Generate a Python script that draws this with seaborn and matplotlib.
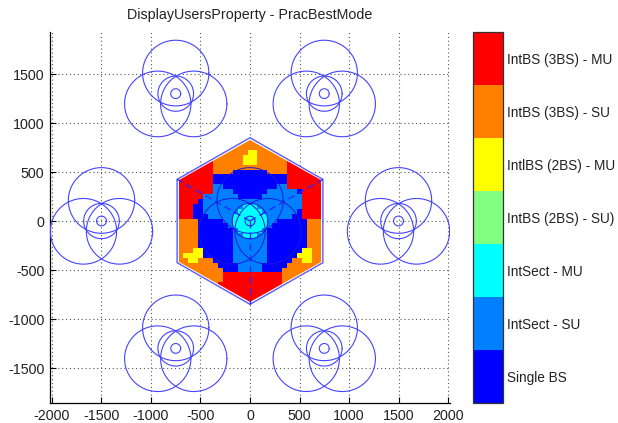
import numpy as np
import matplotlib
matplotlib.use("Agg")
import matplotlib.pyplot as plt
import seaborn as sns
from matplotlib.colors import ListedColormap, BoundaryNorm
from matplotlib.patches import Polygon
from matplotlib.cm import ScalarMappable

sns.set_theme(style="white")
plt.rcParams["font.family"] = ["Liberation Sans", "DejaVu Sans"]
plt.rcParams["axes.unicode_minus"] = False

# ---------------- data ----------------
title = "DisplayUsersProperty - PracBestMode"
mode_labels = ["Single BS", "IntSect - SU", "IntSect - MU", "IntBS (2BS) - SU)",
               "IntlBS (2BS) - MU", "IntBS (3BS) - SU", "IntBS (3BS) - MU"]
mode_codes = ["B", "L", "C", "G", "Y", "O", "R"]
mode_colors = ["#0000ff", "#0080ff", "#00ffff", "#80ff80", "#ffff00", "#ff8000", "#ff0000"]

# base-station (cell) centres
cell_x = [0, -750, 750, -1500, 1500, -750, 750]
cell_y = [0, 1300, 1300, 0, 0, -1300, -1300]

x_ticks = [-2000, -1500, -1000, -500, 0, 500, 1000, 1500, 2000]
y_ticks = [-1500, -1000, -500, 0, 500, 1000, 1500]

# best-mode map of the central cell, 50 m cells
# rows: y = 800 ... -800 ; columns: x = -700 ... 700
map_rows = [
    "RRRRRRR OOOOO OOOOO OOOOO RRRRRRR",
    "RRRRRRR OOOOO OOOOO OOOOO RRRRRRR",
    "RRRRRRR OOOOOOO YY OOOOOO RRRRRRR",
    "RRRRRRR OOOOOO YYY OOOOOO RRRRRRR",
    "RRRRRRR OOOOOO YYY OOOOOO RRRRRRR",
    "RRRRRRR OOOOO OOOOO OOOOO RRRRRRR",
    "RRRRRRR OOOO BBBBBBB OOOO RRRRRRR",
    "RRRRRRR BBBBB BBBBB BBBBB RRRRRRR",
    "RRRRRRR BBBBB BBBBB BBBBB RRRRRRR",
    "RRRRRRR LL BBBBB BBBBB B LL RRRRRRR",
    "RRRRRRR LLLL BBBBBBB LLLLLL B RRRR",
    "RRRRR LLLLLLL BBBBB LLLLLLLL RRRR",
    "RRRR B LLLLLLLLLL LLLLLLLLLL RRRR",
    "RRR BB LLLLLLLL CCC LLLLLLLLL RRRR",
    "RRR BB LLLLLLL CCCCC LLLLLLL B RRRR",
    "RRR BBB LLLLL CCCCCCC LLLLL BB RRRR",
    "OOOO BBBBB LL CCCCCCC LL BBBBBB OOO",
    "OOOO BBBBBB L CCCCCCC L BBBBBBB OOO",
    "OOOO BBBBBBB L CCCCC L BBBBBBBB OOO",
    "OOOO BBBBBBB LL CCC LL BBBBBBBB OOO",
    "OOOO BBBBBBB LLLLLLL BBBBBBBB OOO",
    "OOOO BBBBBBB LLLLLLL BBBBBBBB OOO",
    "OOO YY BBBBBB LLLLLLL BBBBBBB YY OO",
    "O YYYY BBBBBB LLLLLLL BBBBBB YYY OO",
    "OO YY OOO BBBB LLLLLLL BBBBB OO YY OO",
    "OOOOOOOO BBBB LLLLL BBBBB OOOOOOO",
    "OOOOOOOOO BBB LLLLL BBBB OOOOOOOO",
    "OOOOOOOOO RRRRRRRRRRRR OOOOOOOO",
    "OOOOOOOOO RRRRRRRRRRRR OOOOOOOO",
    "OOOOOOOO RRRRRRRRRRRRR OOOOOOOO",
    "OOOOOOOO RRRRRRRRRRRRR OOOOOOOO",
    "OOOOOOOO RRRRRRRRRRRRR OOOOOOOO",
    "OOOOOOOO RRRRRRRRRRRRR OOOOOOOO",
]

# ---------------- figure ----------------
fig = plt.figure(figsize=(6.18, 4.23), dpi=100)
ax = fig.add_axes([50 / 618, 1 - 403.3 / 423, 400 / 618, 371.6 / 423])
ax.set_xlim(-2020, 2020)
ax.set_ylim(-1860, 1932)

codes = np.array([[mode_codes.index(ch) for ch in r.replace(" ", "")] for r in map_rows])
nrow, ncol = codes.shape
xe = np.linspace(-725, 725, ncol + 1)
ye = np.linspace(825, -825, nrow + 1)

cmap = ListedColormap(mode_colors)
norm = BoundaryNorm(np.arange(-0.5, 7.5, 1), cmap.N)


def hexagon(r):
    a = np.deg2rad(90 + 60 * np.arange(6))
    return np.column_stack([r * np.cos(a), r * np.sin(a)])


line_col = "#4444ff"
outer = Polygon(hexagon(850), closed=True, facecolor="white", edgecolor="#5a5aff",
                lw=1.0, zorder=0.9)
ax.add_patch(outer)

mesh = ax.pcolormesh(xe, ye, codes, cmap=cmap, norm=norm, shading="flat", zorder=1,
                     antialiased=False)
clip = Polygon(hexagon(828), closed=True, transform=ax.transData)
mesh.set_clip_path(clip)

# sector boundaries of central cell
for ang in (30, 150, 270):
    a = np.deg2rad(ang)
    ax.plot([0, 850 * np.cos(a)], [0, 850 * np.sin(a)], color="#2a2aff", lw=1.0,
            dashes=(5, 3), zorder=3)

# antenna / coverage circles of every cell
t = np.linspace(0, 2 * np.pi, 361)
for k, (cx, cy) in enumerate(zip(cell_x, cell_y)):
    col = "#1a1ad8" if k == 0 else line_col
    lw = 0.7 if k == 0 else 0.8
    for r in (50, 180):
        ax.plot(cx + r * np.cos(t), cy + r * np.sin(t), color=col, lw=lw, zorder=3)
    for ang in (90, 210, 330):
        a = np.deg2rad(ang)
        ox, oy = cx + 210 * np.cos(a), cy + 210 * np.sin(a)
        ax.plot(ox + 335 * np.cos(t), oy + 335 * np.sin(t), color=col, lw=lw, zorder=3)

ax.set_xticks(x_ticks)
ax.set_yticks(y_ticks)
ax.set_xticklabels([str(v) for v in x_ticks])
ax.set_yticklabels([str(v) for v in y_ticks])
ax.grid(True, color="#555555", lw=0.8, linestyle=(0, (1, 2.5)))
ax.set_axisbelow(True)
for s in ("top", "right"):
    ax.spines[s].set_visible(False)
for s in ("left", "bottom"):
    ax.spines[s].set_color("black")
    ax.spines[s].set_linewidth(0.9)
ax.tick_params(direction="in", length=4, width=0.8, colors="black", labelcolor="#222222",
               labelsize=10.3, pad=4, bottom=True, left=True, top=False, right=False)

fig.text(250 / 618, 1 - 19.5 / 423, title, ha="center", va="baseline", fontsize=10.3,
         color="#222222")

# colour bar
cax = fig.add_axes([473 / 618, 1 - 403 / 423, 30 / 618, 371 / 423])
sm = ScalarMappable(norm=norm, cmap=cmap)
cb = fig.colorbar(sm, cax=cax, ticks=np.arange(7))
cb.set_ticklabels(mode_labels)
cb.minorticks_off()
cb.outline.set_edgecolor("#333333")
cb.outline.set_linewidth(0.9)
cax.tick_params(which="both", length=0, pad=3, labelsize=9.8, labelcolor="#222222")

fig.savefig("out.png", dpi=100)
